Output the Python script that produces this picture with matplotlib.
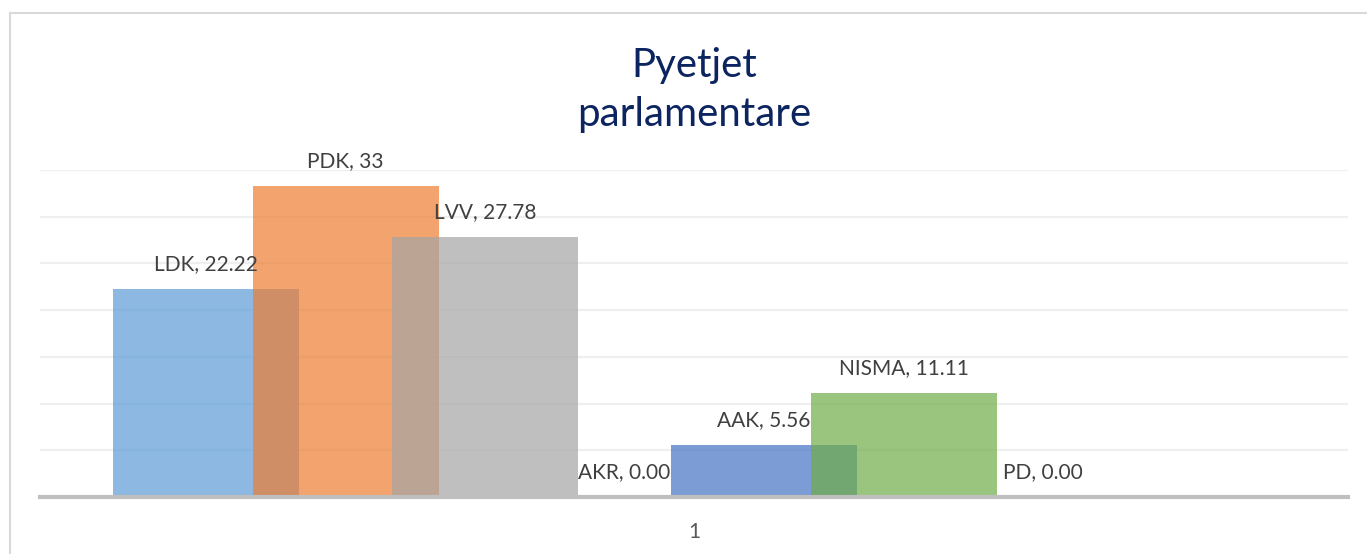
import matplotlib
matplotlib.use("Agg")
import matplotlib.pyplot as plt
from matplotlib.lines import Line2D

# ---- data ----
parties = ["LDK", "PDK", "LVV", "AKR", "AAK", "NISMA", "PD"]
values = [22.22, 33.33, 27.78, 0.0, 5.56, 11.11, 0.0]
value_labels = ["22.22", "33", "27.78", "0.00", "5.56", "11.11", "0.00"]
category_labels = ["1"]
colors = ["#5B9BD5", "#ED7D31", "#A5A5A5", "#FFC000", "#4472C4", "#70AD47", "#264478"]
title = "Pyetjet\nparlamentare"

W, H = 1367, 554
fig = plt.figure(figsize=(W / 100, H / 100), dpi=100)
fig.patch.set_facecolor("white")

ax_left, ax_right, ax_bottom, ax_top = 40, 1348, 497, 170
ax = fig.add_axes([ax_left / W, (H - ax_bottom) / H,
                   (ax_right - ax_left) / W, (ax_bottom - ax_top) / H])

font = "Lato"
bar_width = 186 / 1308
step = 139.5 / 1308
first = -0.373

for i, (p, v, lab, c) in enumerate(zip(parties, values, value_labels, colors)):
    x = first + i * step
    ax.bar(x, v, width=bar_width, color=c, alpha=0.7, zorder=2 + i, linewidth=0)
    ax.annotate(f"{p}, {lab}", xy=(x, v), xytext=(0, 25), textcoords="offset pixels",
                ha="center", va="center", fontsize=15, color="#404040",
                family=font, zorder=20)

ax.set_xlim(-0.5, 0.5)
ax.set_ylim(0, 35)
ax.set_yticks([5, 10, 15, 20, 25, 30, 35])
ax.yaxis.grid(True, color="#EFEFEF", linewidth=1.6, zorder=0)
ax.set_axisbelow(True)
ax.tick_params(axis="y", left=False, labelleft=False)
ax.set_xticks([0])
ax.set_xticklabels(category_labels, family=font, fontsize=15, color="#595959")
ax.tick_params(axis="x", length=0, pad=18)
for s in ["top", "right", "left"]:
    ax.spines[s].set_visible(False)
ax.spines["bottom"].set_color("#BFBFBF")
ax.spines["bottom"].set_linewidth(3)
ax.spines["bottom"].set_zorder(30)

fig.text(694 / W, 1 - 90 / H, title, ha="center", va="center", fontsize=29,
         color="#0C2560", family=font, linespacing=1.4)

# figure border (top and left visible)
fig.add_artist(Line2D([10 / W, 1.0], [1 - 13 / H, 1 - 13 / H], transform=fig.transFigure,
                      color="#D9D9D9", linewidth=1.5))
fig.add_artist(Line2D([10 / W, 10 / W], [1 - 13 / H, 0.0], transform=fig.transFigure,
                      color="#D9D9D9", linewidth=1.5))

fig.savefig("out.png", dpi=100, facecolor="white")
